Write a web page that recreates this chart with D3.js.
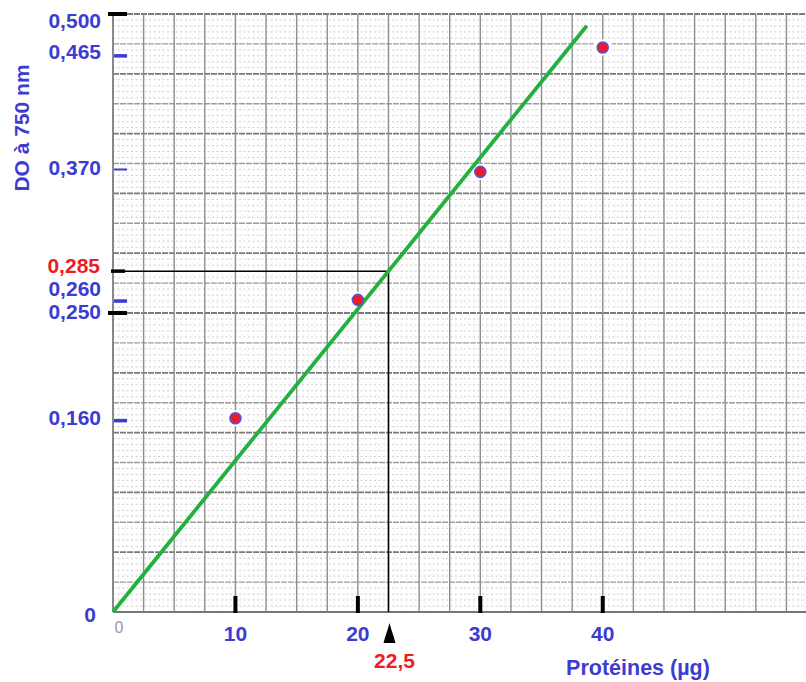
<!DOCTYPE html>
<html><head><meta charset="utf-8">
<script src="https://cdn.jsdelivr.net/npm/d3@7"></script>
<style>html,body{margin:0;padding:0;background:#fff;}svg{display:block;}</style>
</head><body>
<script>
// ---- data ----
const proteins = [10, 20, 30, 40];               // µg
const absorbance = [0.162, 0.261, 0.368, 0.472];  // DO measured points
const yTickValues = [0.500, 0.465, 0.370, 0.260, 0.250, 0.160];
const yTickLabels = ["0,500", "0,465", "0,370", "0,260", "0,250", "0,160"];
const yTickKinds = ["major", "minor", "thin", "minor", "major", "minor"];
const xTickValues = [10, 20, 30, 40];
const xTickLabels = ["10", "20", "30", "40"];
const fitLineX = [0, 38.7];
const readX = 22.5, readY = 0.285;
const fitSlope = readY / readX;

const W = 806, H = 682;
const BLUE = "#3c3cd2", RED = "#ee1c24", GREEN = "#22b13f";
const svg = d3.select("body").append("svg").attr("width", W).attr("height", H);
const x = d3.scaleLinear().domain([0, 56.6]).range([113, 806]);
const y = d3.scaleLinear().domain([0, 0.5]).range([612, 14]);

// ---- graph paper ----
const grid = svg.append("g");
const xs = d3.range(0, 56.6, 0.5), ys = d3.range(0, 0.5001, 0.005);
const isMajX = d => Math.round(d * 2) % 5 === 0;
grid.selectAll(".vf").data(xs.filter(d => !isMajX(d))).join("line")
  .attr("x1", d => x(d)).attr("x2", d => x(d)).attr("y1", y(0.5)).attr("y2", y(0))
  .attr("stroke", "#dedede").attr("stroke-width", 0.6).attr("stroke-dasharray", "1.5,2.5");
const hk = d => Math.round(d * 200);
grid.selectAll(".hf").data(ys).join("line")
  .attr("y1", d => y(d)).attr("y2", d => y(d)).attr("x1", x(0)).attr("x2", W)
  .attr("stroke", d => hk(d) % 10 === 0 ? "#7a7a7a" : (hk(d) % 5 === 0 ? "#9c9c9c" : "#c4c4c4"))
  .attr("stroke-width", d => hk(d) % 10 === 0 ? 1.8 : (hk(d) % 5 === 0 ? 1.4 : 0.8))
  .attr("stroke-dasharray", d => hk(d) % 5 === 0 ? "6,1" : "2,2.5");
grid.selectAll(".vm").data(xs.filter(isMajX)).join("line")
  .attr("x1", d => x(d)).attr("x2", d => x(d)).attr("y1", y(0.5)).attr("y2", y(0))
  .attr("stroke", "#8e8e8e").attr("stroke-width", 1.4);
// axis edges
grid.append("line").attr("x1", x(0)).attr("x2", x(0)).attr("y1", y(0.5)).attr("y2", y(0)).attr("stroke", "#808080").attr("stroke-width", 1.6);
grid.append("line").attr("x1", x(0)).attr("x2", W).attr("y1", y(0)).attr("y2", y(0)).attr("stroke", "#777").attr("stroke-width", 2);

// ---- white patches behind points ----
const pts = proteins.map((p, i) => ({p, a: absorbance[i]}));
svg.selectAll(".bg").data(pts).join("rect")
  .attr("x", d => x(d.p) - 9).attr("y", d => y(d.a) - 8).attr("width", 18).attr("height", 16).attr("fill", "#fff");

// ---- reading lines ----
svg.append("line").attr("x1", x(0)).attr("x2", x(readX)).attr("y1", y(readY)).attr("y2", y(readY)).attr("stroke", "#000").attr("stroke-width", 1.5);
svg.append("line").attr("x1", x(readX)).attr("x2", x(readX)).attr("y1", y(readY)).attr("y2", y(0)).attr("stroke", "#000").attr("stroke-width", 1.5);

// ---- fit line ----
svg.append("line")
  .attr("x1", x(fitLineX[0])).attr("y1", y(fitLineX[0] * fitSlope))
  .attr("x2", x(fitLineX[1])).attr("y2", y(fitLineX[1] * fitSlope))
  .attr("stroke", GREEN).attr("stroke-width", 3.8);

// ---- points ----
svg.selectAll(".pt").data(pts).join("circle")
  .attr("cx", d => x(d.p)).attr("cy", d => y(d.a)).attr("r", 5.5)
  .attr("fill", RED).attr("stroke", "#5a4fe0").attr("stroke-width", 1.6);

// ---- y ticks & labels ----
const font = "Liberation Sans, Arial, sans-serif";
const labelShift = {"0,500": 7, "0,465": -4, "0,370": -2, "0,260": -12, "0,250": -1, "0,160": -3};
yTickValues.forEach((v, i) => {
  const k = yTickKinds[i];
  const c = k === "major" ? "#000" : BLUE;
  const thick = k === "major" ? 4 : (k === "thin" ? 2 : 3.5);
  const x1 = k === "major" ? x(0) - 5 : x(0) + 1;
  svg.append("line").attr("x1", x1).attr("x2", x(0) + 14).attr("y1", y(v)).attr("y2", y(v))
    .attr("stroke", c).attr("stroke-width", thick);
  svg.append("text").attr("x", 101).attr("y", y(v) + labelShift[yTickLabels[i]]).attr("dy", "0.35em").attr("text-anchor", "end")
    .attr("font-family", font).attr("font-weight", "bold").attr("font-size", 21).attr("fill", BLUE)
    .text(yTickLabels[i]);
});
// 0,285
svg.append("line").attr("x1", x(0) - 2).attr("x2", x(0) + 12).attr("y1", y(readY)).attr("y2", y(readY)).attr("stroke", "#000").attr("stroke-width", 3.5);
svg.append("text").attr("x", 100).attr("y", y(readY) - 5).attr("dy", "0.35em").attr("text-anchor", "end")
  .attr("font-family", font).attr("font-weight", "bold").attr("font-size", 21).attr("fill", RED).text("0,285");
svg.append("text").attr("x", 96).attr("y", y(0) + 3).attr("dy", "0.35em").attr("text-anchor", "end")
  .attr("font-family", font).attr("font-weight", "bold").attr("font-size", 21).attr("fill", BLUE).text("0");
svg.append("text").attr("x", x(0) + 6).attr("y", y(0) + 15).attr("dy", "0.35em").attr("text-anchor", "middle")
  .attr("font-family", font).attr("font-size", 16).attr("fill", "#9a9a9a").text("0");

// ---- x ticks & labels ----
xTickValues.forEach((v, i) => {
  svg.append("line").attr("x1", x(v)).attr("x2", x(v)).attr("y1", y(0) - 16).attr("y2", y(0) + 1)
    .attr("stroke", "#000").attr("stroke-width", 4);
  svg.append("text").attr("x", x(v)).attr("y", y(0) + 22).attr("dy", "0.35em").attr("text-anchor", "middle")
    .attr("font-family", font).attr("font-weight", "bold").attr("font-size", 21).attr("fill", BLUE).text(xTickLabels[i]);
});
// arrow at 22.5
const ax = x(readX) + 1;
svg.append("path")
  .attr("d", `M${ax},${y(0)+11} L${ax-2},${y(0)+18} L${ax-4},${y(0)+24} L${ax-6},${y(0)+31} L${ax+6},${y(0)+31} L${ax+4},${y(0)+24} L${ax+2},${y(0)+18} Z`)
  .attr("fill", "#000");
svg.append("text").attr("x", ax + 5).attr("y", y(0) + 49).attr("dy", "0.35em").attr("text-anchor", "middle")
  .attr("font-family", font).attr("font-weight", "bold").attr("font-size", 21).attr("fill", RED).text("22,5");

// ---- axis titles ----
svg.append("text").attr("x", 638).attr("y", 667).attr("dy", "0.35em").attr("text-anchor", "middle")
  .attr("font-family", font).attr("font-weight", "bold").attr("font-size", 21.5).attr("fill", BLUE).text("Protéines (µg)");
svg.append("text").attr("transform", "translate(22,128) rotate(-90)").attr("dy", "0.35em").attr("text-anchor", "middle")
  .attr("font-family", font).attr("font-weight", "bold").attr("font-size", 21).attr("fill", BLUE).text("DO à 750 nm");
</script>
</body></html>
